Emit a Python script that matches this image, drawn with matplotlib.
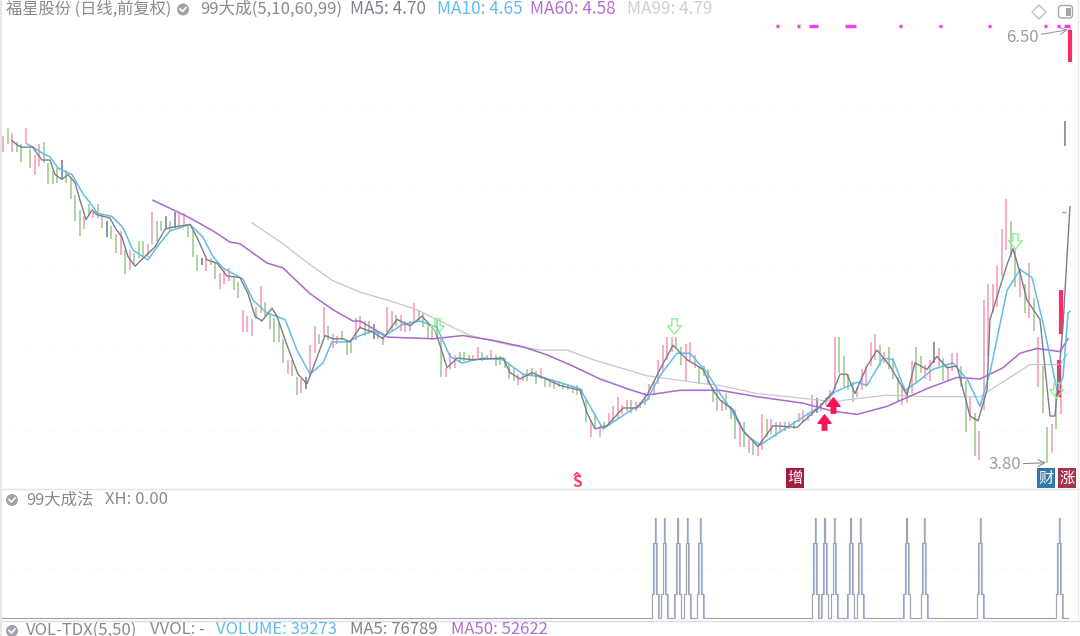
import matplotlib
matplotlib.use("Agg")
import matplotlib.pyplot as plt
from matplotlib.path import Path
from matplotlib.patches import FancyBboxPatch, Circle, Polygon

plt.rcParams['font.family'] = ['Noto Sans CJK SC', 'DejaVu Sans']

# ---------- data: candle wicks (price), one per bar ----------
wick_high = [5.83,5.88,5.85,5.79,5.78,5.88,5.75,5.71,5.78,5.79,
 5.66,5.61,5.63,5.68,5.62,5.56,5.46,5.37,5.33,5.41,
 5.36,5.41,5.34,5.30,5.27,5.22,5.24,5.12,5.12,5.10,
 5.18,5.18,5.16,5.36,5.30,5.30,5.33,5.30,5.36,5.35,
 5.35,5.28,5.24,5.09,5.07,5.07,5.07,5.04,4.98,5.00,
 5.01,4.96,4.92,4.75,4.71,4.69,4.77,4.90,4.80,4.73,
 4.70,4.67,4.57,4.44,4.44,4.33,4.32,4.33,4.53,4.65,
 4.60,4.77,4.65,4.60,4.59,4.62,4.56,4.57,4.70,4.71,
 4.68,4.68,4.66,4.62,4.60,4.77,4.74,4.72,4.72,4.68,
 4.68,4.79,4.75,4.73,4.66,4.63,4.69,4.57,4.39,4.48,
 4.47,4.49,4.49,4.47,4.47,4.52,4.49,4.47,4.50,4.47,
 4.46,4.45,4.41,4.39,4.35,4.35,4.38,4.39,4.37,4.39,
 4.33,4.31,4.31,4.31,4.29,4.28,4.27,4.28,4.26,4.19,
 4.06,4.11,4.03,4.05,4.11,4.15,4.21,4.16,4.19,4.19,
 4.18,4.18,4.23,4.29,4.31,4.44,4.53,4.58,4.58,4.58,
 4.52,4.54,4.55,4.47,4.40,4.40,4.38,4.27,4.25,4.19,
 4.23,4.15,4.13,4.05,4.05,3.95,3.93,3.91,4.10,4.07,
 4.07,4.05,4.05,4.05,4.05,4.06,4.11,4.13,4.11,4.22,
 4.20,4.17,4.21,4.25,4.58,4.58,4.46,4.35,4.30,4.27,
 4.38,4.40,4.55,4.60,4.53,4.49,4.52,4.45,4.33,4.28,
 4.25,4.43,4.52,4.46,4.41,4.44,4.55,4.51,4.45,4.40,
 4.48,4.48,4.40,4.31,4.21,4.11,4.00,4.81,4.91,4.91,
 5.02,5.25,5.44,5.30,5.12,5.01,4.91,5.04,4.82,4.58,
 4.40,4.02,4.04,4.23,4.30,5.92,6.50]
wick_low = [5.73,5.78,5.73,5.73,5.67,5.78,5.63,5.59,5.64,5.66,
 5.53,5.53,5.54,5.57,5.54,5.44,5.30,5.21,5.25,5.33,
 5.32,5.32,5.26,5.20,5.19,5.10,5.09,4.97,5.00,5.03,
 5.07,5.08,5.08,5.16,5.18,5.24,5.25,5.24,5.26,5.26,
 5.27,5.20,5.08,4.99,5.03,4.99,5.03,4.94,4.88,4.91,
 4.93,4.87,4.82,4.61,4.61,4.59,4.69,4.73,4.71,4.63,
 4.55,4.55,4.42,4.35,4.34,4.22,4.23,4.26,4.33,4.48,
 4.54,4.58,4.56,4.51,4.54,4.56,4.47,4.48,4.56,4.63,
 4.59,4.60,4.57,4.57,4.53,4.61,4.62,4.65,4.62,4.61,
 4.62,4.67,4.68,4.64,4.57,4.56,4.57,4.33,4.33,4.38,
 4.39,4.42,4.43,4.43,4.43,4.45,4.43,4.44,4.44,4.40,
 4.41,4.39,4.32,4.31,4.28,4.31,4.31,4.34,4.29,4.32,
 4.27,4.27,4.26,4.27,4.26,4.25,4.23,4.22,4.22,4.05,
 3.96,4.01,3.96,4.01,4.03,4.05,4.07,4.10,4.12,4.11,
 4.12,4.14,4.16,4.19,4.22,4.29,4.37,4.44,4.49,4.51,
 4.41,4.31,4.43,4.39,4.29,4.34,4.28,4.18,4.12,4.12,
 4.13,4.07,3.95,3.90,3.90,3.86,3.85,3.84,3.88,3.96,
 3.98,3.96,4.00,4.00,4.01,4.01,4.05,4.05,4.06,4.09,
 4.11,4.12,4.15,4.15,4.25,4.36,4.27,4.25,4.18,4.21,
 4.25,4.27,4.40,4.44,4.40,4.42,4.38,4.32,4.18,4.16,
 4.17,4.23,4.30,4.36,4.32,4.31,4.42,4.40,4.31,4.31,
 4.37,4.40,4.27,3.99,4.06,3.84,3.82,4.13,4.46,4.73,
 4.77,4.96,5.12,5.08,4.89,4.83,4.73,4.70,4.62,4.27,
 4.11,3.80,3.86,4.01,4.10,5.77,6.29]
wick_kind = ("rgrggrgrrg" "gggdggggrg" "rggdggrgrg" "ggrrggdgdr" "rgggdrggrr"
             "rggrrrgrgg" "gggrggrdrr" "grgrrgggrr" "ggdggrrgrr" "rrgggrggrr"
             "rgggrrggrg" "ggggrrgggr" "grgrggrggg" "rgrgrrrrrg" "rgrrrrrrrg"
             "grrrgggggr" "gggrgrgrrg" "rgrgrgrrrr" "drrrrggggr" "rrrrgrgggr"
             "grggrrdrgr" "rrggrgrrrr" "rrrggrgrgr" "ggrgrdr")
bar_step = 4.52

# moving averages: position along the date axis and price
ma5_x = [12,18,22,33,37,42,50,55,62,68,75,80,86,92,97,110,115,122,128,135,143,155,165,170,190,197,207,217,227,240,248,255,262,272,277,287,298,307,315,325,333,343,350,360,373,383,397,410,422,435,440,447,457,473,503,510,520,532,560,580,587,595,607,623,637,647,660,673,687,703,713,720,733,743,758,773,797,820,833,840,847,855,867,877,890,907,915,927,937,947,957,970,978,987,990,1007,1013,1020,1027,1040,1050,1055,1063,1067,1070]
ma5_y = [5.80,5.77,5.76,5.76,5.72,5.68,5.68,5.59,5.56,5.59,5.54,5.43,5.31,5.37,5.34,5.32,5.26,5.20,5.08,5.02,5.07,5.14,5.25,5.26,5.28,5.20,5.06,5.04,4.96,4.95,4.85,4.71,4.68,4.76,4.71,4.53,4.35,4.29,4.42,4.59,4.57,4.57,4.55,4.64,4.61,4.57,4.69,4.65,4.71,4.62,4.53,4.39,4.45,4.44,4.45,4.36,4.32,4.36,4.28,4.25,4.11,4.01,4.03,4.14,4.14,4.22,4.38,4.53,4.44,4.38,4.25,4.19,4.13,4.00,3.90,4.03,4.02,4.15,4.24,4.35,4.35,4.23,4.40,4.50,4.40,4.22,4.42,4.38,4.46,4.39,4.40,4.09,4.06,4.25,4.69,5.03,5.13,4.98,4.81,4.69,4.09,4.09,4.65,5.08,5.39]
ma10_x = [27,33,43,50,58,72,83,92,97,112,123,133,148,157,170,190,203,213,223,243,253,267,285,297,310,323,332,348,360,373,385,403,420,437,450,462,483,503,523,543,580,603,627,647,660,677,690,707,720,730,745,760,787,820,835,857,867,883,893,905,917,933,953,968,980,990,1007,1020,1032,1043,1057,1063,1068,1070]
ma10_y = [5.78,5.76,5.72,5.70,5.63,5.59,5.47,5.40,5.35,5.33,5.26,5.12,5.06,5.14,5.24,5.28,5.20,5.08,5.01,4.94,4.81,4.73,4.69,4.50,4.35,4.42,4.55,4.55,4.59,4.62,4.59,4.66,4.68,4.64,4.46,4.42,4.45,4.44,4.35,4.33,4.26,4.01,4.11,4.19,4.34,4.48,4.48,4.36,4.23,4.14,3.98,3.91,4.02,4.15,4.24,4.30,4.28,4.45,4.44,4.25,4.30,4.38,4.42,4.31,4.15,4.36,4.87,5.00,4.95,4.67,4.25,4.33,4.73,4.74]
ma60_x = [153,187,213,230,240,267,283,310,333,353,360,388,433,463,493,523,547,573,600,627,647,680,720,757,803,833,857,887,927,957,980,1003,1020,1037,1060,1068]
ma60_y = [5.43,5.33,5.24,5.17,5.16,5.04,5.01,4.85,4.75,4.68,4.68,4.58,4.57,4.59,4.56,4.52,4.47,4.40,4.32,4.26,4.22,4.25,4.25,4.21,4.17,4.12,4.10,4.15,4.26,4.33,4.32,4.39,4.48,4.51,4.49,4.57]
ma99_x = [252,283,310,333,360,393,417,440,470,510,540,567,593,647,693,720,757,833,887,927,980,1000,1030,1060,1068]
ma99_y = [5.29,5.16,5.03,4.93,4.86,4.80,4.75,4.68,4.59,4.53,4.50,4.50,4.44,4.34,4.30,4.28,4.23,4.18,4.22,4.21,4.21,4.29,4.41,4.41,4.48]

# large candle bodies
body_x = [1059,1061,1069.5]
body_top = [4.44,4.87,6.49]
body_bottom = [4.21,4.60,6.29]
dash_x = [[776,778.5],[797,799.5],[809,817.5],[845,856],[899,901.5],[939,941.5],[988,990.5],[1044,1046.5],[1057,1059.5],[1064,1070]]
dash_price = 6.51
grid_prices = [6.0,5.5,5.0,4.5,4.0]

# signal arrows (date position, price)
hollow_x = [437,674,1015]
hollow_y = [4.65,4.65,5.18]
hollow_up_x = [1056]
hollow_up_y = [4.25]
red_up_x = [833,824]
red_up_y = [4.16,4.05]

# lower panel
xh_centres = [655,664.3,677.7,687.3,700,815,824.7,834.3,850.7,860,906.7,924,980,1059]
xh_levels = [0,24,75,100]
xh_left, xh_right = 0, 1068

BLUE = '#62bde6'
PURPLE = '#a968d0'
LIGHT = '#c6c6d0'
WICK = {'r': '#f8a7c0', 'g': '#a9cf9d', 'd': '#8a8a9e'}

fig = plt.figure(figsize=(10.8, 6.36), dpi=100, facecolor='white')
W, H = 1080.0, 636.0

def add_ax(top, bottom):
    a = fig.add_axes([0, 1 - bottom / H, 1, (bottom - top) / H])
    a.set_xlim(0, W)
    a.axis('off')
    return a

ax = add_ax(0, 488)
ax.set_ylim(3.643, 6.674)
for p in grid_prices:
    ax.axhline(p, color='#ececf0', lw=0.7, ls=(0, (1, 4)), zorder=0)

bar_x = [3 + bar_step * i for i in range(len(wick_high))]
ax.vlines(bar_x, wick_low, wick_high, colors=[WICK[k] for k in wick_kind], lw=1.3, zorder=1)
ax.vlines(body_x, body_bottom, body_top, colors='#ff2a68', lw=3.0, zorder=2)
ax.hlines(5.36, 1062, 1066, colors='#ff6f96', lw=1)
for seg in dash_x:
    ax.plot(seg, [dash_price, dash_price], color='#f03cf5', lw=2.4, solid_capstyle='butt')

ax.plot(ma99_x, ma99_y, color=LIGHT, lw=0.9, zorder=3)
ax.plot(ma60_x, ma60_y, color=PURPLE, lw=1.1, zorder=3)
ax.plot(ma10_x, ma10_y, color=BLUE, lw=1.1, zorder=4)
ax.plot(ma5_x, ma5_y, color='#7c7c88', lw=1.0, zorder=4)

arrow_down = Path([(-.35,1),(.35,1),(.35,.1),(.9,.1),(0,-1),(-.9,.1),(-.35,.1),(-.35,1)], closed=True)
arrow_up = Path([(-.3,-1),(.3,-1),(.3,-.1),(.85,-.1),(0,1),(-.85,-.1),(-.3,-.1),(-.3,-1)], closed=True)
ax.plot(hollow_x, hollow_y, ls='', marker=arrow_down, ms=11, mfc='none', mec='#8ff08f', mew=1.0, zorder=5)
ax.plot(hollow_up_x, hollow_up_y, ls='', marker=arrow_down, ms=11, mfc='none', mec='#8ff08f', mew=1.0, zorder=5)
ax.plot(red_up_x, red_up_y, ls='', marker=arrow_up, ms=11, mfc='#ff0f55', mec='#ff0f55', zorder=5)

ax.annotate('6.50', xy=(1068, 6.49), xytext=(1006, 6.44), color='#9a9aa8', fontsize=12,
            va='center', arrowprops=dict(arrowstyle='->', color='#9a9aa8', lw=0.8, shrinkA=0, shrinkB=0))
ax.annotate('3.80', xy=(1046, 3.80), xytext=(988, 3.79), color='#9a9aa8', fontsize=12,
            va='center', arrowprops=dict(arrowstyle='->', color='#8a8a92', lw=0.8, shrinkA=0, shrinkB=0))

# overlay in pixel terms for panel furniture and texts
ov = fig.add_axes([0, 0, 1, 1], zorder=10)
ov.set_xlim(0, W); ov.set_ylim(H, 0); ov.axis('off'); ov.patch.set_alpha(0)

def t(x, y, s, c, fs=12.4, **kw):
    ov.text(x, y, s, color=c, fontsize=fs, va='center', ha=kw.pop('ha', 'left'), **kw)

TG = '#8b8b8b'
t(6, 9.5, '福星股份 (日线,前复权)', TG, fs=11.7)
t(200, 9.5, '99大成(5,10,60,99)', TG, fs=12)
t(350, 9.5, 'MA5: 4.70', '#80808a')
t(437, 9.5, 'MA10: 4.65', BLUE)
t(530, 9.5, 'MA60: 4.58', '#b06fd6')
t(627, 9.5, 'MA99: 4.79', '#cfcfd6')
t(26, 500, '99大成法', TG, fs=11.8)
t(105, 500, 'XH: 0.00', TG, fs=12)
t(26, 630, 'VOL-TDX(5,50)', TG, fs=12)
t(150, 630, 'VVOL: -', TG, fs=12)
t(216, 630, 'VOLUME: 39273', BLUE, fs=12)
t(350, 630, 'MA5: 76789', '#80808a', fs=12)
t(451, 630, 'MA50: 52622', '#b06fd6', fs=12)

for cx, cy in [(183, 9.5), (12, 500), (12, 631)]:
    ov.add_patch(Circle((cx, cy), 6, color='#a2a2aa', lw=0))
    ov.plot([cx-3, cx-0.5, cx+3], [cy-0.5, cy+2, cy-2], color='white', lw=1.2)

# toolbar icons
ov.add_patch(Polygon([(1039,5),(1046,12),(1039,19),(1032,12)], closed=True, fc='white', ec='#c4c4cc', lw=1))
ov.add_patch(FancyBboxPatch((1058.5,5.5), 14, 12.5, boxstyle='round,pad=0,rounding_size=3', fc='white', ec='#a5a5ad', lw=1))
ov.add_patch(plt.Rectangle((1066,7.5), 4.5, 8.5, color='#a5a5ad', lw=0))

# badges
badge = dict(boxstyle='square,pad=0.12', lw=0)
t(577, 482, 'S', '#ff3b72', fs=11, ha='center', fontweight='bold')
ov.plot([574.5,577,579.5], [475,472.5,475], color='#ff3b72', lw=1.2)
t(795, 478, '增', 'white', fs=11, ha='center', bbox=dict(fc='#a41c3f', **badge))
t(1046, 478, '财', 'white', fs=11, ha='center', bbox=dict(fc='#2f78a8', **badge))
t(1067, 478, '涨', 'white', fs=11, ha='center', bbox=dict(fc='#a8324a', **badge))

# panel borders
ov.plot([0, 1080], [488.5, 488.5], color='#e3e3e8', lw=1)
ov.plot([0, 1080], [620.5, 620.5], color='#dcdce2', lw=1)
ov.plot([1077.5, 1077.5], [0, 620], color='#ececf0', lw=1)
ov.plot([0.8, 0.8], [0, 636], color='#e6e6ea', lw=1.5)

# lower panel: stepped signal
ax2 = add_ax(490, 620)
ax2.set_ylim(-2, 128)
ax2.axhline(50, color='#ececf0', lw=0.7, ls=(0, (1, 4)), zorder=0)

def stair(offset):
    xs, ys = [xh_left], [xh_levels[0]]
    for c in xh_centres:
        c = c + offset
        for dx, lv in [(-3.2, 0), (-3.2, 1), (-1.4, 1), (-1.4, 2), (-0.2, 2), (-0.2, 3),
                       (0.2, 3), (0.2, 2), (1.4, 2), (1.4, 1), (3.2, 1), (3.2, 0)]:
            xs.append(c + dx)
            ys.append(xh_levels[lv])
    xs.append(xh_right); ys.append(xh_levels[0])
    return xs, ys

xa, ya = stair(0.4)
ax2.plot(xa, ya, color='#b3bfee', lw=0.8, zorder=2)
xb, yb = stair(-0.2)
ax2.plot(xb, yb, color='#a4a4ae', lw=0.8, zorder=3)

fig.savefig('out.png', dpi=100)
